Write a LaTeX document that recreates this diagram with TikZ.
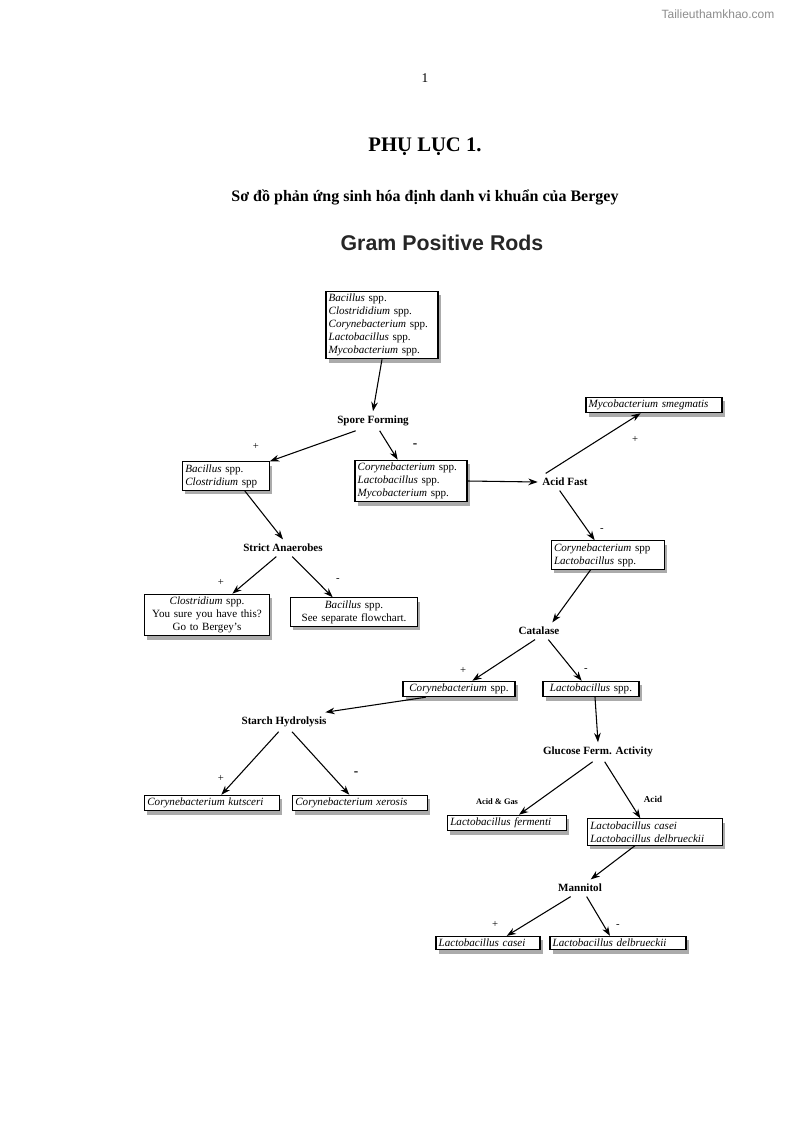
\documentclass[tikz,border=0pt]{standalone}
\usepackage{fontspec}
\setmainfont{Liberation Serif}
\newfontfamily\sansf{Liberation Sans}
\usetikzlibrary{shadows,arrows.meta}
\begin{document}
\begin{tikzpicture}[x=0.75pt,y=-0.75pt,
  bx/.style={draw,thick,fill=white,drop shadow={shadow xshift=2pt,shadow yshift=-3pt,fill=black!55,opacity=0.6},inner sep=2pt,font=\fontsize{8.3}{9.8}\selectfont\itshape,align=left},
  lb/.style={font=\fontsize{8.3}{10}\selectfont\bfseries},
  sg/.style={font=\fontsize{8}{9}\selectfont},
  ar/.style={-{Stealth[length=7pt,width=5pt]},thick}]
\useasboundingbox (0,0) rectangle (794,1123);
\node[text=black!45,font=\sansf\fontsize{9}{10}\selectfont] (wm) at (718,14) {Tailieuthamkhao.com};
\node[font=\fontsize{10}{12}\selectfont] (pg) at (425,78) {1};
\node[font=\fontsize{15.5}{18}\selectfont\bfseries] (t1) at (425,147) {PHỤ LỤC 1.};
\node[font=\fontsize{12}{14}\selectfont\bfseries] (t2) at (425,197) {Sơ đồ phản ứng sinh hóa định danh vi khuẩn của Bergey};
\node[font=\sansf\fontsize{16}{18}\selectfont\bfseries,text=black!85] (t3) at (442,243) {Gram Positive Rods};

\node[bx,text width=80pt] (top) at (382,325) {Bacillus {\upshape spp.}\\Clostrididium {\upshape spp.}\\Corynebacterium {\upshape spp.}\\Lactobacillus {\upshape spp.}\\Mycobacterium {\upshape spp.}};
\node[lb] (sf) at (373,421) {Spore Forming};
\node[bx,text width=61pt] (bc) at (226,476) {Bacillus {\upshape spp.}\\Clostridium {\upshape spp}};
\node[bx,text width=80pt] (clm) at (411,481) {Corynebacterium {\upshape spp.}\\Lactobacillus {\upshape spp.}\\Mycobacterium {\upshape spp.}};
\node[lb] (af) at (565,482) {Acid Fast};
\node[bx,text width=98pt] (ms) at (654,405) {Mycobacterium smegmatis};
\node[bx,text width=81pt] (cl) at (608,555) {Corynebacterium {\upshape spp}\\Lactobacillus {\upshape spp.}};
\node[lb] (sa) at (283,548) {Strict Anaerobes};
\node[bx,text width=90pt,align=center] (cs) at (207,615) {Clostridium {\upshape spp.}\\{\upshape You sure you have this?}\\{\upshape Go to Bergey's}};
\node[bx,text width=91pt,align=center] (bs) at (354,612) {Bacillus {\upshape spp.}\\{\upshape See separate flowchart.}};
\node[lb] (cat) at (539,631) {Catalase};
\node[bx,text width=80pt,align=center] (cor) at (459,689) {Corynebacterium {\upshape spp.}};
\node[bx,text width=68pt,align=center] (lac) at (591,689) {Lactobacillus {\upshape spp.}};
\node[lb] (sh) at (284,722) {Starch Hydrolysis};
\node[bx,text width=97pt] (ck) at (212,803) {Corynebacterium kutsceri};
\node[bx,text width=97pt] (cx) at (360,803) {Corynebacterium xerosis};
\node[lb] (gf) at (598,752) {Glucose Ferm. Activity};
\node[bx,text width=85pt] (lf) at (507,823) {Lactobacillus fermenti};
\node[bx,text width=97pt] (lcd) at (655,832) {Lactobacillus casei\\Lactobacillus delbrueckii};
\node[lb] (mn) at (580,888) {Mannitol};
\node[bx,text width=74pt] (lc) at (488,943) {Lactobacillus casei};
\node[bx,text width=98pt] (ld) at (618,943) {Lactobacillus delbrueckii};

\node[sg] (p1) at (256,446) {+};
\node[sg,font=\bfseries] (m1) at (415,446) {-};
\node[sg] (p2) at (635,439) {+};
\node[sg] (m2) at (602,530) {-};
\node[sg] (p3) at (221,582) {+};
\node[sg] (m3) at (338,580) {-};
\node[sg] (p4) at (463,670) {+};
\node[sg] (m4) at (586,670) {-};
\node[sg] (p5) at (221,778) {+};
\node[sg,font=\bfseries] (m5) at (356,774) {-};
\node[lb,font=\fontsize{6.3}{7}\selectfont\bfseries] (ag) at (497,802) {Acid \& Gas};
\node[lb,font=\fontsize{6.8}{7}\selectfont\bfseries] (ac) at (653,799) {Acid};
\node[sg] (p6) at (495,924) {+};
\node[sg] (m6) at (618,926) {-};

\draw[ar] (top.south) -- (sf.north);
\draw[ar] ([xshift=-13pt]sf.south) -- (bc.north east);
\draw[ar] ([xshift=5pt]sf.south) -- ([xshift=-10pt]clm.north);
\draw[ar] (clm.east) -- (af.west);
\draw[ar] ([xshift=6pt]af.north west) -- ([xshift=-10pt]ms.south);
\draw[ar] ([xshift=-4pt]af.south) -- ([xshift=-10pt]cl.north);
\draw[ar] ([xshift=14pt]bc.south) -- (sa.north);
\draw[ar] ([xshift=-5pt]sa.south) -- ([xshift=19pt]cs.north);
\draw[ar] ([xshift=7pt]sa.south) -- ([xshift=-16pt]bs.north);
\draw[ar] ([xshift=-13pt]cl.south) -- ([xshift=10pt]cat.north);
\draw[ar] ([xshift=-3pt]cat.south) -- ([xshift=10pt]cor.north);
\draw[ar] ([xshift=7pt]cat.south) -- ([xshift=-7pt]lac.north);
\draw[ar] ([xshift=-25pt]cor.south) -- ([xshift=31pt]sh.north);
\draw[ar] ([xshift=3pt]lac.south) -- (gf.north);
\draw[ar] ([xshift=-4pt]sh.south) -- ([xshift=7pt]ck.north);
\draw[ar] ([xshift=6pt]sh.south) -- ([xshift=-8pt]cx.north);
\draw[ar] ([xshift=-4pt]gf.south) -- ([xshift=9pt]lf.north);
\draw[ar] ([xshift=5pt]gf.south) -- ([xshift=-11pt]lcd.north);
\draw[ar] ([xshift=-15pt]lcd.south) -- ([xshift=8pt]mn.north);
\draw[ar] ([xshift=-7pt]mn.south) -- ([xshift=14pt]lc.north);
\draw[ar] ([xshift=5pt]mn.south) -- ([xshift=-6pt]ld.north);
\end{tikzpicture}
\end{document}
